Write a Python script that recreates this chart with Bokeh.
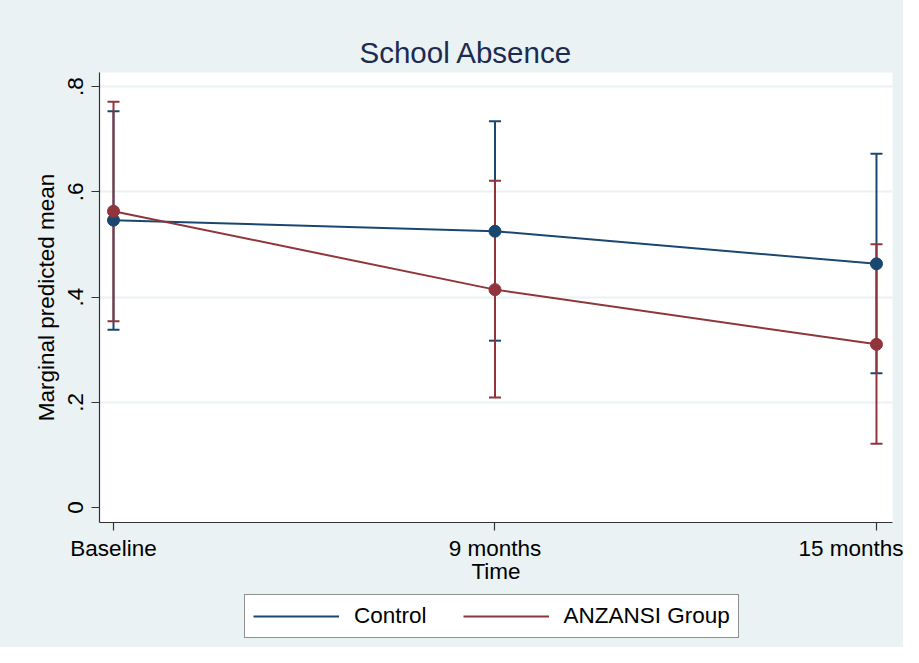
from bokeh.plotting import figure
from bokeh.layouts import column
from bokeh.models import FixedTicker, Range1d, Legend, LegendItem, ColumnDataSource
from bokeh.embed import file_html
from bokeh.resources import INLINE

# ---- data ----
time_labels = ["Baseline", "9 months", "15 months"]
time_pos = [0, 1, 2]

control_mean = [0.546, 0.525, 0.463]
control_lower = [0.338, 0.317, 0.255]
control_upper = [0.753, 0.734, 0.672]

anzansi_mean = [0.563, 0.414, 0.310]
anzansi_lower = [0.354, 0.209, 0.121]
anzansi_upper = [0.771, 0.621, 0.500]

series_names = ["Control", "ANZANSI Group"]

y_ticks = [0, 0.2, 0.4, 0.6, 0.8]
y_tick_labels = ["0", ".2", ".4", ".6", ".8"]

BLUE = "#1a476f"
RED = "#90353b"
BG = "#eaf2f3"
FONT = "Liberation Sans"

p = figure(width=903, height=590, output_backend="svg", toolbar_location=None,
           x_range=Range1d(-0.0367, 2.042), y_range=Range1d(-0.0285, 0.8266),
           min_border_left=99, min_border_right=11, min_border_top=72, min_border_bottom=68)
p.background_fill_color = "white"
p.border_fill_color = BG
p.outline_line_color = None

p.title.text = "School Absence"
p.title.text_font = FONT
p.title.text_font_size = "29.5px"
p.title.text_font_style = "normal"
p.title.text_color = "#1c2b50"
p.title.align = "left"
p.title.offset = 260
p.title.standoff = 7

# axes
for ax in (p.xaxis[0], p.yaxis[0]):
    ax.axis_line_color = "#333333"
    ax.axis_line_width = 1.2
    ax.major_tick_line_color = "#333333"
    ax.major_tick_line_width = 1.2
    ax.major_tick_out = 8
    ax.major_tick_in = 0
    ax.minor_tick_line_color = None
    ax.major_label_text_font = FONT
    ax.major_label_text_font_size = "22.5px"
    ax.major_label_text_color = "black"
    ax.axis_label_text_font = FONT
    ax.axis_label_text_font_size = "22.5px"
    ax.axis_label_text_font_style = "normal"
    ax.axis_label_text_color = "black"

p.xaxis.ticker = FixedTicker(ticks=time_pos)
p.xaxis.major_label_overrides = {t: l for t, l in zip(time_pos, time_labels)}
p.xaxis.axis_label = "Time"
p.xaxis.major_label_standoff = 5
p.xaxis.axis_label_standoff = -5

p.yaxis.ticker = FixedTicker(ticks=y_ticks)
p.yaxis.major_label_overrides = {t: l for t, l in zip(y_ticks, y_tick_labels)}
p.yaxis.major_label_orientation = "vertical"
p.yaxis.axis_label = "Marginal predicted mean"
p.yaxis.major_label_standoff = 8
p.yaxis.axis_label_standoff = 7

p.xgrid.grid_line_color = None
p.ygrid.ticker = FixedTicker(ticks=y_ticks[1:])
p.ygrid.grid_line_color = BG
p.ygrid.grid_line_width = 2

src_c = ColumnDataSource(dict(x=time_pos, m=control_mean, lo=control_lower, hi=control_upper))
src_a = ColumnDataSource(dict(x=time_pos, m=anzansi_mean, lo=anzansi_lower, hi=anzansi_upper))

# CIs
p.segment(x0="x", y0="lo", x1="x", y1="hi", source=src_c, line_color=BLUE, line_width=2)
p.scatter(x="x", y="lo", source=src_c, marker="dash", size=12, line_color=BLUE, line_width=2)
p.scatter(x="x", y="hi", source=src_c, marker="dash", size=12, line_color=BLUE, line_width=2)
p.segment(x0="x", y0="lo", x1="x", y1="hi", source=src_a, line_color=RED, line_width=2)
p.scatter(x="x", y="lo", source=src_a, marker="dash", size=12, line_color=RED, line_width=2)
p.scatter(x="x", y="hi", source=src_a, marker="dash", size=12, line_color=RED, line_width=2)

# lines and markers
p.line(x="x", y="m", source=src_c, line_color=BLUE, line_width=2)
p.scatter(x="x", y="m", source=src_c, marker="circle", size=12, fill_color=BLUE, line_color=BLUE)
p.line(x="x", y="m", source=src_a, line_color=RED, line_width=2)
p.scatter(x="x", y="m", source=src_a, marker="circle", size=12, fill_color=RED, line_color=RED)

# ---- legend strip below the plot (its own ranges keep the CI glyphs out of view) ----
q = figure(width=903, height=57, output_backend="svg", toolbar_location=None,
           x_axis_type=None, y_axis_type=None,
           x_range=Range1d(-0.0367, 2.042), y_range=Range1d(10, 11),
           min_border_left=0, min_border_right=0, min_border_top=0, min_border_bottom=0)
q.background_fill_color = None
q.border_fill_color = BG
q.outline_line_color = None
q.xgrid.grid_line_color = None
q.ygrid.grid_line_color = None

leg_c = q.segment(x0="x", y0="lo", x1="x", y1="hi", source=src_c, line_color=BLUE, line_width=2)
leg_a = q.segment(x0="x", y0="lo", x1="x", y1="hi", source=src_a, line_color=RED, line_width=2)

legend = Legend(items=[LegendItem(label=series_names[0], renderers=[leg_c]),
                       LegendItem(label=series_names[1], renderers=[leg_a])],
                location=(145, 9), orientation="horizontal")
legend.border_line_color = "#222222"
legend.border_line_width = 1.2
legend.background_fill_color = "white"
legend.background_fill_alpha = 1
legend.label_text_font = FONT
legend.label_text_font_size = "22.5px"
legend.label_text_color = "black"
legend.glyph_width = 86
legend.glyph_height = 20
legend.label_standoff = 15
legend.spacing = 36
legend.padding = 8
legend.margin = 0
q.add_layout(legend, "center")

layout = column(p, q, spacing=0, styles={"background-color": BG})
open("out.html", "w").write(file_html(layout, INLINE))
